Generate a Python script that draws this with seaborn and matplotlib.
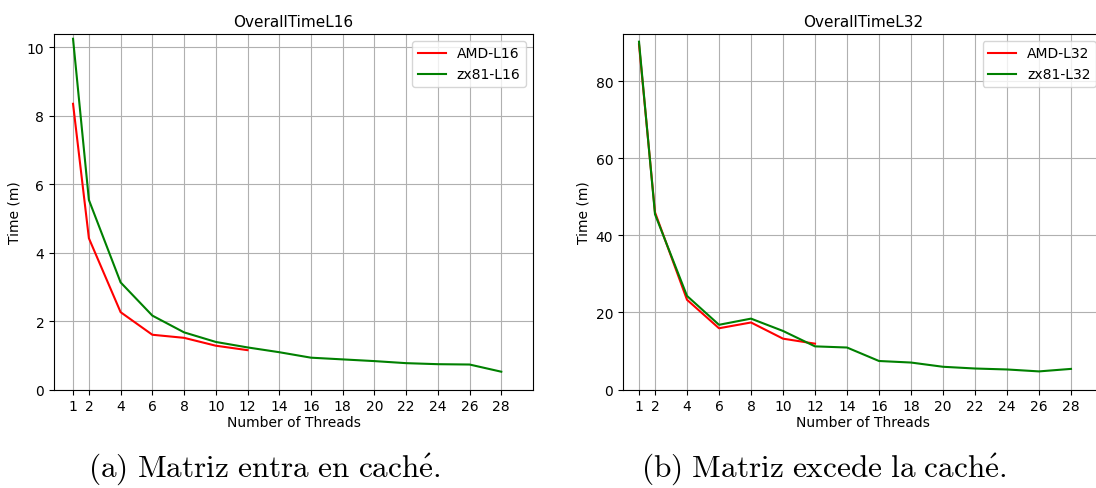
import pandas as pd
import matplotlib
matplotlib.use("Agg")
import matplotlib.pyplot as plt
import seaborn as sns

# thread counts
threads_amd = [1, 2, 4, 6, 8, 10, 12]
threads_zx81 = [1, 2, 4, 6, 8, 10, 12, 14, 16, 18, 20, 22, 24, 26, 28]
xticks = [1, 2, 4, 6, 8, 10, 12, 14, 16, 18, 20, 22, 24, 26, 28]

# overall time (minutes), L16 matrix
amd_l16 = [8.35, 4.42, 2.26, 1.60, 1.51, 1.28, 1.15]
zx81_l16 = [10.25, 5.54, 3.13, 2.16, 1.67, 1.39, 1.23, 1.09, 0.93, 0.88, 0.83, 0.77, 0.74, 0.73, 0.52]

# overall time (minutes), L32 matrix
amd_l32 = [89.6, 46.0, 23.3, 15.9, 17.4, 13.2, 11.9]
zx81_l32 = [90.3, 45.5, 24.3, 16.8, 18.4, 15.2, 11.2, 10.9, 7.4, 7.0, 5.9, 5.45, 5.2, 4.7, 5.35]

W, H = 1096, 489
fig = plt.figure(figsize=(W / 100, H / 100), dpi=100)

# left panel
ax1 = fig.add_axes([54 / W, (H - 390.5) / H, (533 - 54) / W, (390.5 - 35) / H])
# right panel (cut off on the right, like the original)
ax2 = fig.add_axes([623 / W, (H - 390.5) / H, 480 / W, (390.5 - 35) / H])


def make_df(amd, zx, tag):
    a = pd.DataFrame({"threads": threads_amd, "time": amd, "cpu": "AMD-" + tag})
    z = pd.DataFrame({"threads": threads_zx81, "time": zx, "cpu": "zx81-" + tag})
    return pd.concat([a, z], ignore_index=True)


panels = [
    (ax1, make_df(amd_l16, zx81_l16, "L16"), "L16", (-0.2, 30), (0, 10.39)),
    (ax2, make_df(amd_l32, zx81_l32, "L32"), "L32", (0, 30), (0, 92.3)),
]

for ax, df, tag, xl, yl in panels:
    sns.lineplot(data=df, x="threads", y="time", hue="cpu",
                 palette={"AMD-" + tag: "red", "zx81-" + tag: "green"},
                 linewidth=1.5, ax=ax)
    ax.set_title("OverallTime" + tag, fontsize=11)
    ax.set_xlabel("Number of Threads", fontsize=10, labelpad=1)
    ax.set_ylabel("Time (m)", fontsize=10)
    ax.set_xticks(xticks)
    ax.set_xlim(*xl)
    ax.set_ylim(*yl)
    ax.tick_params(labelsize=10)
    ax.grid(True, color="#b0b0b0", linewidth=0.8)
    ax.legend(loc="upper right", fontsize=10, title=None)

# captions under each panel
plt.rcParams["mathtext.fontset"] = "cm"
fig.text(264 / W, 20 / H, r"$\mathrm{(a)\ Matriz\ entra\ en\ cach\acute{e}.}$",
         ha="center", va="center", fontsize=22.5)
fig.text(824 / W, 20 / H, r"$\mathrm{(b)\ Matriz\ excede\ la\ cach\acute{e}.}$",
         ha="center", va="center", fontsize=22.5)

fig.savefig("out.png", dpi=100)
